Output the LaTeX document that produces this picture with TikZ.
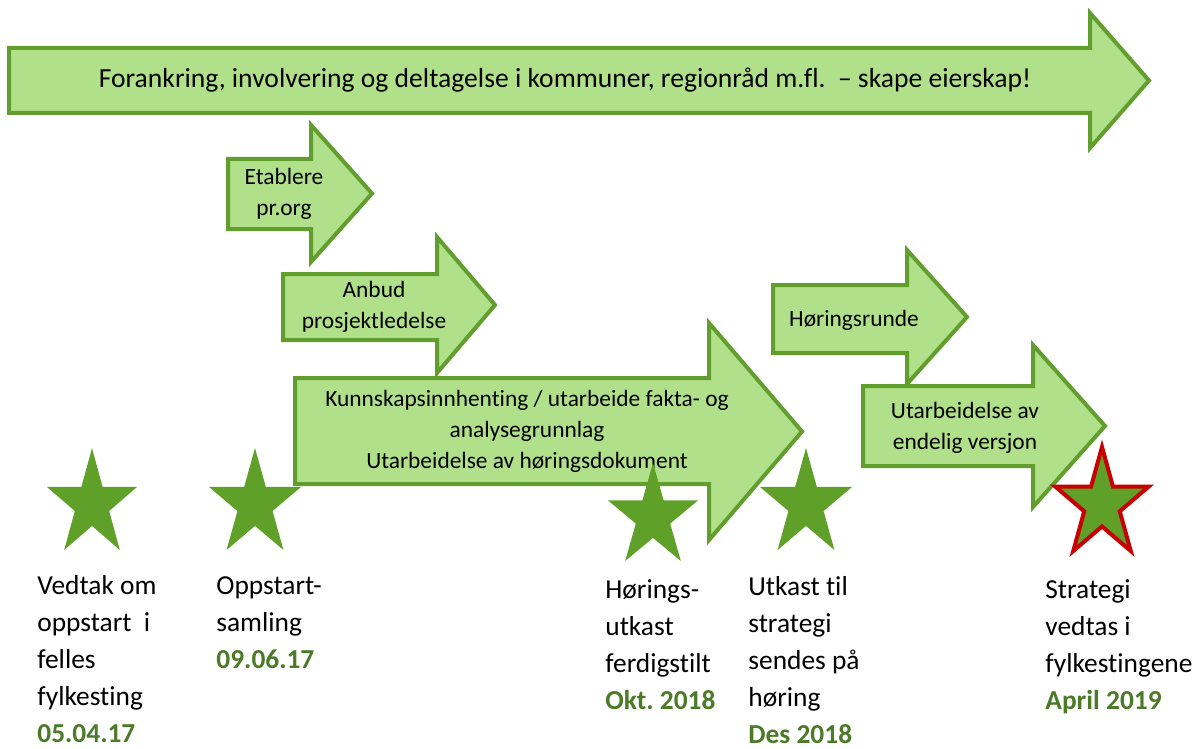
\documentclass[tikz,border=0pt]{standalone}
\usepackage{fontspec}
\setmainfont{Carlito}[Ligatures={NoCommon}]
\frenchspacing
\definecolor{arrowfill}{RGB}{176,224,137}
\definecolor{arrowline}{RGB}{98,158,46}
\definecolor{starfill}{RGB}{95,161,40}
\definecolor{datecol}{RGB}{75,122,40}
\definecolor{starred}{RGB}{200,0,0}
\tikzset{
  arrowbox/.style={draw=arrowline, fill=arrowfill, line width=2pt, line join=miter},
  arrowtext/.style={align=center, inner sep=0pt, font=\fontsize{11.7}{15.5}\selectfont},
  bigtext/.style={inner sep=0pt, font=\fontsize{13.8}{16}\selectfont},
  greenstar/.style={fill=starfill},
  redstar/.style={fill=starfill, draw=starred, line width=2pt, line join=miter},
  milestone/.style={anchor=north west, align=left, inner sep=0pt, font=\fontsize{13.7}{18.5}\selectfont},
}
\newcommand{\blockarrow}[7]{%
  \draw[arrowbox] (#1,#2) -- (#4,#2) -- (#4,#5) -- (#7,{(#5+#6)/2}) -- (#4,#6) -- (#4,#3) -- (#1,#3) -- cycle;}
\newcommand{\drawstar}[5]{%
  \begin{scope}[shift={(#1,#2)}, xscale=#3/1.902, yscale=#4/1.809]
    \path[#5] (0,0) -- (-0.2245,0.691) -- (-0.9511,0.691) -- (-0.3633,1.118) -- (-0.5878,1.809) -- (0,1.382) -- (0.5878,1.809) -- (0.3633,1.118) -- (0.9511,0.691) -- (0.2245,0.691) -- cycle;
  \end{scope}}
\newcommand{\dt}[1]{{\bfseries\color{datecol}#1}}
\begin{document}
\begin{tikzpicture}[x=0.5pt, y=-0.5pt]
\useasboundingbox (0,0) rectangle (1200,749);
% arrows
\blockarrow{9}{48}{113}{1090}{13}{148}{1149}
\node[bigtext] (forankring) at (565,80) {Forankring, involvering og deltagelse i kommuner, regionråd m.fl.\ \ – skape eierskap!};
\blockarrow{228}{159}{229}{311}{125}{262}{372}
\node[arrowtext] (etablere) at (284,194) {Etablere\\pr.org};
\blockarrow{283}{274}{340}{437}{237}{373}{495}
\node[arrowtext] (anbud) at (374,307) {Anbud\\prosjektledelse};
\blockarrow{295}{378}{484}{709}{323}{540}{802}
\node[arrowtext] (kunnskap) at (527,431) {Kunnskapsinnhenting / utarbeide fakta- og\\analysegrunnlag\\Utarbeidelse av høringsdokument};
\blockarrow{773}{285}{353}{907}{250}{384}{967}
\node[arrowtext] (horingsrunde) at (854,320) {Høringsrunde};
\blockarrow{863}{386}{466}{1033}{345}{507}{1105}
\node[arrowtext] (endelig) at (965,428) {Utarbeidelse av\\endelig versjon};
% stars
\drawstar{92}{448}{90}{102}{greenstar}
\drawstar{255}{448}{92}{102}{greenstar}
\drawstar{653}{463}{90}{98}{greenstar}
\drawstar{806}{448}{92}{102}{greenstar}
\drawstar{1102}{447}{93}{104}{redstar}
% milestone labels
\node[milestone] (m1) at (37,568) {\strut Vedtak om\\oppstart\ \ i\\felles\\fylkesting\\\dt{05.04.17}};
\node[milestone] (m2) at (216,568) {\strut Oppstart-\\samling\\\dt{09.06.17}};
\node[milestone] (m3) at (605,572) {\strut Hørings-\\utkast\\ferdigstilt\\\dt{Okt. 2018}};
\node[milestone] (m4) at (748,569) {\strut Utkast til\\strategi\\sendes på\\høring\\\dt{Des 2018}};
\node[milestone] (m5) at (1045,572) {\strut Strategi\\vedtas i\\fylkestingene\\\dt{April 2019}};
\end{tikzpicture}
\end{document}
